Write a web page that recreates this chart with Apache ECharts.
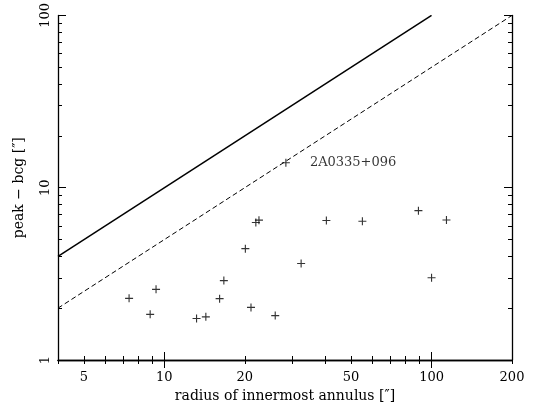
<!DOCTYPE html>
<html>
<head>
<meta charset="utf-8">
<script src="https://cdn.jsdelivr.net/npm/echarts@6/dist/echarts.min.js"></script>
<style>
  html, body { margin: 0; padding: 0; background: #fff; }
  #chart { width: 540px; height: 409px; }
</style>
</head>
<body>
<div id="chart"></div>
<script>
// radius of innermost annulus ["] vs peak - bcg offset ["]
const radius = [7.38, 8.85, 9.31, 13.2, 14.3, 16.1, 16.7, 20.1, 21.1, 22.0, 22.6, 26.0, 28.5, 32.5, 40.4, 55.1, 89.3, 100, 113.7];
const offset = [2.28, 1.84, 2.57, 1.74, 1.78, 2.27, 2.89, 4.43, 2.02, 6.28, 6.48, 1.81, 13.96, 3.63, 6.45, 6.39, 7.36, 3.0, 6.5];
const labelled = { index: 12, text: "2A0335+096" };

// reference lines: y = x (solid) and y = x/2 (dashed)
const solidX = [4, 100];
const solidY = [4, 100];
const dashX = [4, 200];
const dashY = [2, 100];

// tick values
const xLabels = [5, 10, 20, 50, 100, 200];
const xMajor = [10, 100];
const xMinor = [4, 5, 6, 7, 8, 9, 20, 30, 40, 50, 60, 70, 80, 90, 200];
const yLabels = [1, 10, 100];
const yMajor = [1, 10, 100];
const yMinor = [2, 3, 4, 5, 6, 7, 8, 9, 20, 30, 40, 50, 60, 70, 80, 90];

const lg = (v) => Math.log10(v);
const font = "DejaVu Serif";
const X_MIN = lg(4), X_MAX = lg(200);

const chart = echarts.init(document.getElementById("chart"));

function tickAxis(pos, ticks, len, extra) {
  const isX = pos === "bottom" || pos === "top";
  return Object.assign({
    type: "value",
    position: pos,
    gridIndex: 0,
    min: isX ? X_MIN : 0,
    max: isX ? X_MAX : 2,
    axisLine: { show: false },
    axisTick: {
      show: true,
      inside: true,
      length: len,
      lineStyle: { color: "#000", width: 1 },
      customValues: ticks.map(lg),
    },
    axisLabel: { show: false },
    splitLine: { show: false },
  }, extra || {});
}

const fmt = (v) => String(Math.round(Math.pow(10, v)));

const option = {
  animation: false,
  backgroundColor: "#fff",
  grid: { left: 58, right: 28, top: 12, bottom: 49 },
  xAxis: [
    tickAxis("bottom", xMajor, 8, {
      axisLine: { show: true, lineStyle: { color: "#000", width: 1.3 } },
      axisLabel: {
        show: true,
        customValues: xLabels.map(lg),
        formatter: fmt,
        color: "#000",
        fontFamily: font,
        fontSize: 13,
        margin: 11,
      },
      name: "radius of innermost annulus [\u2033]",
      nameLocation: "middle",
      nameGap: 26,
      nameTextStyle: { color: "#000", fontFamily: font, fontSize: 14 },
    }),
    tickAxis("bottom", xMinor, 4),
    tickAxis("top", xMajor, 8, {
      axisLine: { show: true, lineStyle: { color: "#000", width: 1.3 } },
    }),
    tickAxis("top", xMinor, 4),
  ],
  yAxis: [
    tickAxis("left", yMajor, 8, {
      axisLine: { show: true, lineStyle: { color: "#000", width: 1.3 } },
      axisLabel: {
        show: true,
        customValues: yLabels.map(lg),
        formatter: fmt,
        rotate: 90,
        color: "#000",
        fontFamily: font,
        fontSize: 13,
        margin: 6,
      },
      name: "peak \u2212 bcg [\u2033]",
      nameLocation: "middle",
      nameRotate: 90,
      nameGap: 32,
      nameTextStyle: { color: "#000", fontFamily: font, fontSize: 14 },
    }),
    tickAxis("left", yMinor, 4),
    tickAxis("right", yMajor, 8, {
      axisLine: { show: true, lineStyle: { color: "#000", width: 1.3 } },
    }),
    tickAxis("right", yMinor, 4),
  ],
  series: [
    {
      type: "line",
      xAxisIndex: 0,
      yAxisIndex: 0,
      symbol: "none",
      lineStyle: { color: "#000", width: 1.5 },
      data: solidX.map((x, i) => [lg(x), lg(solidY[i])]),
    },
    {
      type: "line",
      xAxisIndex: 0,
      yAxisIndex: 0,
      symbol: "none",
      lineStyle: { color: "#000", width: 1, type: [5, 3] },
      data: dashX.map((x, i) => [lg(x), lg(dashY[i])]),
    },
    {
      type: "scatter",
      xAxisIndex: 0,
      yAxisIndex: 0,
      symbol: "path://M0,4.3h10v1.4h-10z M4.3,0h1.4v10h-1.4z",
      symbolSize: 8,
      itemStyle: { color: "#000" },
      data: radius.map((x, i) => {
        const d = { value: [lg(x), lg(offset[i])] };
        if (i === labelled.index) {
          d.label = {
            show: true,
            position: "right",
            distance: 20,
            formatter: labelled.text,
            color: "#000",
            fontFamily: font,
            fontSize: 13,
          };
        }
        return d;
      }),
    },
  ],
};

chart.setOption(option);
</script>
</body>
</html>
